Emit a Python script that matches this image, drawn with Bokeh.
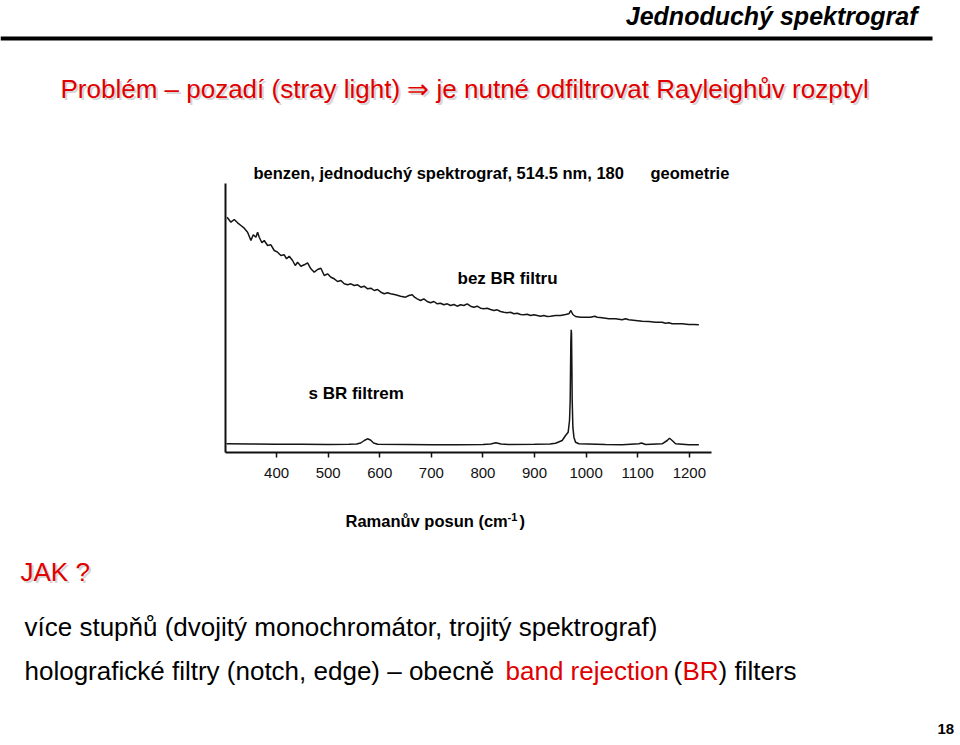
from bokeh.plotting import figure
from bokeh.models import Range1d, FixedTicker, Label, BoxAnnotation
from bokeh.layouts import column
from bokeh.embed import file_html
from bokeh.resources import INLINE

# ---------------- data ----------------
raman_ticks = [400, 500, 600, 700, 800, 900, 1000, 1100, 1200]

# spectrum without band-rejection filter (arbitrary intensity units)
bez_shift = [304, 311.5, 318, 324.4, 330.9, 337.3, 343.8, 350.3, 354.8, 359.9, 363.2, 366.4,
             371.6, 376.1, 382.6, 389, 395.5, 401.9, 408.4, 414.9, 419.4, 424.5, 431, 436.2,
             440.7, 447.2, 453.6, 460.1, 466.5, 473, 479.5, 485.9, 492.4, 498.8, 505.3, 511.8,
             518.2, 524.7, 531.1, 537.6, 544.1, 550.5, 557, 563.4, 569.9, 576.4, 582.8, 589.3,
             595.7, 602.2, 608.7, 615.1, 621, 630.6, 640.3, 650, 656.5, 662.9, 667.4, 672.6,
             679.1, 685.5, 692, 698.5, 704.9, 711.4, 717.8, 724.3, 730.8, 737.2, 743.7, 750.1,
             756.6, 763, 769.5, 776, 782.4, 788.9, 795.4, 801.8, 808.3, 814.7, 821.2, 827.7,
             834.1, 840.6, 847, 853.5, 860, 866.4, 872.9, 879.3, 885.8, 892.3, 898.7, 905.2,
             911.6, 918.1, 924.6, 931, 940.7, 950.4, 960.1, 966.5, 970.4, 974.3, 979.5, 989.2,
             998.8, 1008.5, 1016.9, 1021.5, 1031.1, 1044.1, 1057, 1069.9, 1076.4, 1082.8, 1095.7,
             1108.7, 1121.6, 1134.5, 1147.4, 1153.9, 1160.3, 1166.8, 1173.3, 1186.2, 1199.1,
             1208.8, 1218.5]
bez_int = [235.3, 230.3, 233, 229.7, 227, 224.3, 220.3, 212, 217.7, 215.3, 220.3, 215.3,
           209.7, 212, 207, 207.7, 202, 200.3, 197, 197.7, 193.7, 196.3, 192, 187,
           190.3, 186.3, 187.7, 189.7, 183.7, 180.3, 183, 184.3, 177, 178.7, 175.3, 173.7,
           171, 172, 168.7, 167.7, 168.7, 167, 167.7, 165.3, 166.3, 163.7, 164.3, 162,
           163, 160.3, 158.7, 159.7, 158.7, 157.7, 156.3, 155.3, 157, 157.7, 155.3, 153.7,
           152, 153.7, 151, 149.7, 151, 148.7, 149.3, 147.7, 148.7, 147, 148, 146.3,
           147.7, 147, 148.7, 146.3, 145.3, 146.3, 144.3, 143.7, 144.3, 143, 142, 142.7,
           141, 140.3, 139.7, 140.3, 138.7, 139.3, 138, 137.7, 138.3, 137, 137.7, 137,
           136.3, 137, 136, 136.3, 137, 137, 138, 138.7, 142, 138, 136, 135.3,
           135.3, 135.3, 136.3, 135.3, 134.7, 133.7, 133.7, 132.7, 133.7, 132.7, 132,
           131.3, 131, 130.3, 130.3, 129.3, 129.7, 128.7, 128.7, 128.7, 128,
           128, 127.7]

# spectrum with band-rejection filter
sbr_shift = [303, 350, 400, 450, 500, 540, 555, 563, 570, 576, 582, 588, 596, 650, 700, 750,
             800, 815, 825, 835, 850, 900, 930, 940.7, 953.6, 960.1, 965.2, 967.8, 969.1,
             969.8, 970.4, 971.1, 971.7, 972.4, 973.0, 974.3, 976.3, 979.5, 986, 1037.6,
             1069.9, 1102.2, 1107.4, 1115.1, 1147.4, 1157.1, 1161.6, 1166.8, 1173.3, 1199.1,
             1218.5]
sbr_int = [8.7, 8.5, 8.3, 8.3, 8.0, 8.2, 8.5, 9.5, 12, 13.7, 12.5, 9.5, 8.3, 8.0, 7.7, 7.8,
           8.0, 8.6, 9.7, 8.6, 8.0, 8.2, 8.6, 9.3, 12, 17, 20.3, 32, 52,
           85, 112, 122.7, 118.7, 85, 52, 25.3, 15.3, 10.3, 8.7, 8,
           7.7, 8.7, 9.5, 8, 8.7, 12, 14.3, 12, 8.7, 7.7,
           7.7]

# ---------------- layout ----------------
W = 960
FL, FR, FT, FB = 225, 711, 183, 452   # chart frame edges on the page
CHART_BOTTOM = 492                    # page y where the chart figure ends
H_TOTAL = 745
RED = "#e00000"
FONT = "Liberation Sans"
BASE_K = 0.32   # rendered baseline sits ~0.32 em below the requested y


def text_panel(y0, y1):
    """A blank figure whose frame is the page strip y0..y1 (page pixel coordinates)."""
    f = figure(width=W, height=y1 - y0, output_backend="svg", toolbar_location=None,
               title=None, x_range=Range1d(0, W), y_range=Range1d(y1, y0),
               x_axis_location=None, y_axis_location=None, frame_align=False,
               min_border_left=0, min_border_right=0, min_border_top=0, min_border_bottom=0)
    f.outline_line_color = None
    f.background_fill_color = "white"
    f.border_fill_color = "white"
    f.grid.visible = False
    return f


def put(f, text, X, Y, size, color="black", style="normal", align="left"):
    f.add_layout(Label(x=X, y=Y - BASE_K * size, text=text, text_font=FONT,
                       text_font_size=f"{size}px", text_font_style=style, text_color=color,
                       text_align=align, text_baseline="alphabetic"))


# ---- top strip ----
top = text_panel(0, FT)
put(top, "Jednoduchý spektrograf", 917, 23, 25, style="bold italic", align="right")
top.add_layout(BoxAnnotation(left=0, right=932, top=36, bottom=40,
                             fill_color="black", fill_alpha=1, line_color=None))
title = "Problém – pozadí (stray light) ⇒ je nutné odfiltrovat Rayleighův rozptyl"
put(top, title, 62, 99, 26, color="#d6d6d6")
put(top, title, 60, 97, 26, color=RED)
put(top, "benzen, jednoduchý spektrograf, 514.5 nm, 180", 253, 178, 16.5, style="bold")
put(top, "geometrie", 650, 178, 16.5, style="bold")

# ---- chart ----
p = figure(width=W, height=CHART_BOTTOM - FT, output_backend="svg", toolbar_location=None,
           title=None, x_range=Range1d(301, 1243), y_range=Range1d(0, 269), frame_align=False,
           min_border_left=FL, min_border_right=W - FR,
           min_border_top=0, min_border_bottom=CHART_BOTTOM - FB)
p.background_fill_color = "white"
p.border_fill_color = "white"
p.outline_line_color = None
p.grid.visible = False

p.xaxis.ticker = FixedTicker(ticks=raman_ticks, minor_ticks=[])
p.xaxis.axis_line_width = 2
p.xaxis.axis_line_color = "#111111"
p.xaxis.major_tick_in = 0
p.xaxis.major_tick_out = 5
p.xaxis.major_tick_line_width = 1.5
p.xaxis.major_tick_line_color = "#111111"
p.xaxis.minor_tick_line_color = None
p.xaxis.major_label_text_font = FONT
p.xaxis.major_label_text_font_size = "15px"
p.xaxis.major_label_text_color = "#111111"
p.xaxis.major_label_standoff = 10

p.yaxis.ticker = FixedTicker(ticks=[], minor_ticks=[])
p.yaxis.axis_line_width = 2
p.yaxis.axis_line_color = "#111111"
p.yaxis.major_tick_line_color = None
p.yaxis.minor_tick_line_color = None
p.yaxis.major_label_text_font_size = "0px"

p.line(bez_shift, bez_int, line_color="#151515", line_width=1.5)
p.line(sbr_shift, sbr_int, line_color="#151515", line_width=1.5)


def put_chart(text, X, Y, size):
    p.add_layout(Label(x=X - FL, y=FB - Y + BASE_K * size, x_units="screen", y_units="screen",
                       text=text, text_font=FONT, text_font_size=f"{size}px",
                       text_font_style="bold", text_color="black", text_align="left",
                       text_baseline="alphabetic"))


put_chart("bez BR filtru", 457, 283, 17)
put_chart("s BR filtrem", 308, 398, 17)

# ---- bottom strip ----
bot = text_panel(CHART_BOTTOM, H_TOTAL)
put(bot, "Ramanův posun (cm", 345, 526, 16.5, style="bold")
put(bot, "-1", 507, 520, 11, style="bold")
put(bot, ")", 519, 526, 16.5, style="bold")

put(bot, "JAK ?", 22, 582, 26, color="#d6d6d6")
put(bot, "JAK ?", 20, 580, 26, color=RED)
put(bot, "více stupňů (dvojitý monochromátor, trojitý spektrograf)", 24, 635, 26)
put(bot, "holografické filtry (notch, edge) – obecně", 24, 679, 26)
put(bot, "band rejection", 505, 679, 26, color=RED)
put(bot, "(", 673, 679, 26)
put(bot, "BR", 682, 679, 26, color=RED)
put(bot, ") filters", 718, 679, 26)
put(bot, "18", 937, 733, 15, style="bold")

page = column(top, p, bot, spacing=0)
open("out.html", "w").write(file_html(page, INLINE))
